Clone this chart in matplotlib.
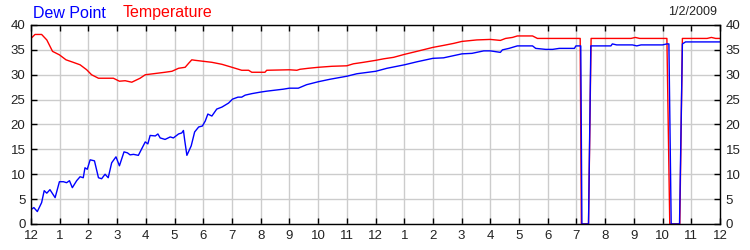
import matplotlib

matplotlib.use("Agg")
import matplotlib.pyplot as plt

plt.rcParams["font.family"] = ["Liberation Sans", "DejaVu Sans"]

# hours since midnight
temp_hours = [
    0.0, 0.14, 0.37, 0.55, 0.75, 0.99, 1.22, 1.47, 1.71, 1.94, 2.11, 2.35, 2.87,
    3.08, 3.28, 3.51, 3.80, 3.98, 4.67, 4.91, 5.14, 5.37, 5.49, 5.60, 5.72, 6.01,
    6.30, 6.65, 7.00, 7.34, 7.58, 7.69, 8.15, 8.21, 9.0, 9.26, 9.37, 9.66, 10.01,
    10.48, 11.0, 11.23, 11.58, 12.01, 12.28, 12.63, 13.01, 13.44, 14.0, 14.37,
    14.72, 15.01, 15.53, 16.0, 16.35, 16.53, 16.77, 16.94, 17.47, 17.64, 18.05,
    19.13, 19.17, 19.42, 19.51, 20.9, 21.05, 21.2, 22.15, 22.25, 22.6, 22.69,
    23.55, 23.7, 23.85, 24.0,
]
temperature = [
    37.3, 38.1, 38.1, 37.0, 34.7, 34.0, 33.0, 32.5, 32.0, 31.0, 30.0, 29.3, 29.3,
    28.7, 28.8, 28.5, 29.3, 30.0, 30.5, 30.7, 31.3, 31.5, 32.3, 33.0, 32.9, 32.7,
    32.5, 32.1, 31.5, 30.9, 30.9, 30.5, 30.5, 30.9, 31.0, 30.9, 31.1, 31.3, 31.5,
    31.7, 31.8, 32.2, 32.5, 32.9, 33.2, 33.5, 34.1, 34.7, 35.5, 35.9,
    36.3, 36.7, 37.0, 37.1, 36.9, 37.3, 37.5, 37.8, 37.8, 37.3, 37.3,
    37.3, 0.0, 0.0, 37.3, 37.3, 37.5, 37.3, 37.3, 0.0, 0.0, 37.3,
    37.3, 37.5, 37.3, 37.3,
]

dew_hours = [
    0.0, 0.10, 0.22, 0.37, 0.46, 0.55, 0.66, 0.84, 0.99, 1.13, 1.24, 1.34, 1.44,
    1.59, 1.71, 1.82, 1.88, 1.96, 2.06, 2.21, 2.35, 2.46, 2.58, 2.69, 2.81, 2.96,
    3.08, 3.24, 3.36, 3.45, 3.57, 3.74, 3.98, 4.07, 4.15, 4.33, 4.42, 4.50, 4.67,
    4.85, 4.96, 5.14, 5.25, 5.31, 5.35, 5.43, 5.58, 5.70, 5.84, 5.97, 6.07, 6.16,
    6.30, 6.47, 6.65, 6.88, 7.02, 7.21, 7.34, 7.46, 7.69, 7.98, 8.21, 8.79, 9.0,
    9.31, 9.60, 10.01, 10.42, 11.0, 11.35, 12.01, 12.40, 13.01, 13.44, 14.0,
    14.37, 15.01, 15.36, 15.77, 16.0, 16.35, 16.42, 16.65, 16.94, 17.47, 17.58,
    17.93, 18.17, 18.40, 18.93, 18.98, 19.15, 19.19, 19.42, 19.50, 20.2, 20.25,
    20.4, 20.95, 21.1, 21.25, 22.0, 22.15, 22.22, 22.3, 22.59, 22.69, 22.8, 24.0,
]
dew_point = [
    2.9, 3.3, 2.5, 4.3, 6.7, 6.2, 6.9, 5.3, 8.5, 8.5, 8.3, 8.7, 7.3,
    8.7, 9.5, 9.3, 11.3, 11.0, 12.9, 12.7, 9.3, 9.1, 10.0, 9.3, 12.3, 13.5,
    11.7, 14.5, 14.3, 13.9, 14.0, 13.8, 16.5, 16.1, 17.8, 17.7, 18.1, 17.3, 17.0,
    17.5, 17.3, 18.1, 18.3, 18.8, 17.0, 13.8, 15.7, 18.5, 19.5, 19.7, 20.7, 22.1,
    21.7, 23.1, 23.5, 24.3, 25.1, 25.5, 25.5, 25.9, 26.2, 26.5, 26.7, 27.1, 27.3,
    27.3, 28.0, 28.6, 29.1, 29.7, 30.2, 30.7, 31.3, 32.0, 32.6, 33.3,
    33.4, 34.2, 34.3, 34.8, 34.8, 34.5, 35.0, 35.3, 35.8, 35.8, 35.3,
    35.1, 35.1, 35.3, 35.3, 35.8, 35.8, 0.0, 0.0, 35.8, 35.8, 36.2,
    36.0, 36.0, 35.8, 36.0, 36.0, 36.2, 36.2, 0.0, 0.0, 36.2, 36.6, 36.6,
]

hour_ticks = list(range(25))
hour_labels = [str((h - 1) % 12 + 1) for h in hour_ticks]
y_ticks = list(range(0, 41, 5))
date_label = "1/2/2009"

fig = plt.figure(figsize=(7.5, 2.5), dpi=100)
ax = fig.add_axes([31 / 750, 26 / 250, 689 / 750, 199 / 250])

ax.plot(temp_hours, temperature, color="#ff0000", lw=1.0)
ax.plot(dew_hours, dew_point, color="#0000ff", lw=1.0)

ax.set_xlim(0, 24)
ax.set_ylim(0, 40)
ax.set_xticks(hour_ticks)
ax.set_xticklabels(hour_labels)
ax.set_yticks(y_ticks)
ax.grid(True, color="#cccccc", lw=1.0)
ax.set_axisbelow(True)
for sp in ax.spines.values():
    sp.set_color("black")
    sp.set_linewidth(1.0)
ax.tick_params(
    direction="in", length=4, width=1, colors="black",
    top=True, right=True, labelright=True, labelsize=9.5, pad=4,
)
for lab in ax.get_xticklabels() + ax.get_yticklabels():
    lab.set_color("#222222")
for lab in ax.yaxis.get_ticklabels(which="both"):
    lab.set_color("#222222")

fig.text(33 / 750, 1 - 13 / 250, "Dew Point", color="#0000ff", fontsize=11.5, va="center", ha="left")
fig.text(123 / 750, 1 - 13 / 250, "Temperature", color="#ff0000", fontsize=11.5, va="center", ha="left")
fig.text(717 / 750, 1 - 12 / 250, date_label, color="#222222", fontsize=9, va="center", ha="right")

fig.savefig("out.png", dpi=100, facecolor="white")
plt.close(fig)
